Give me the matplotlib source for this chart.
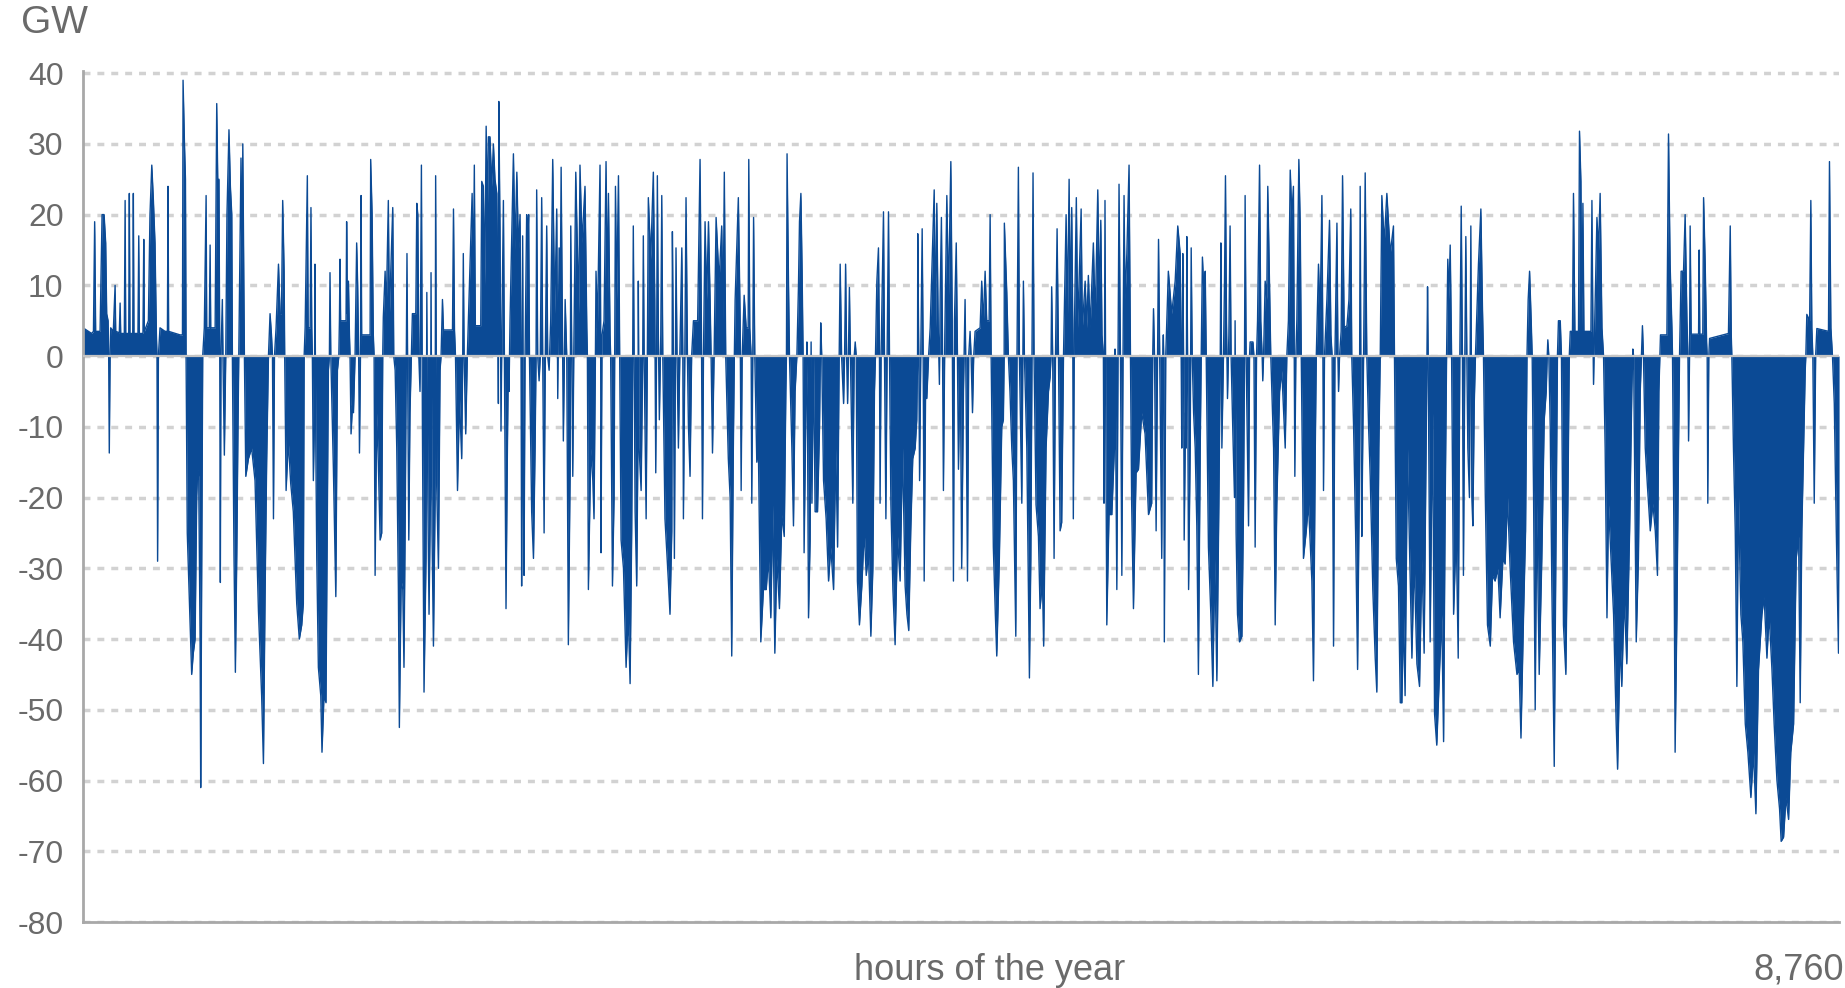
import numpy as np
import matplotlib
matplotlib.use("Agg")
import matplotlib.pyplot as plt

plt.rcParams['font.family'] = ['Liberation Sans', 'DejaVu Sans']
plt.rcParams['axes.unicode_minus'] = False

# hourly balance as (hour, GW) breakpoints, split in eight stretches
p1 = [(0, 4.0), (27, 3.5), (43, 3.2), (52, 3.5), (58, 19), (63, 3.5), (85, 3.5), (95, 20), (105, 20),
      (113, 16), (118, 6), (125, 5), (128, 0), (131, -13.7), (135, 0), (138, 4), (151, 3.5), (160, 10),
      (163, 3.5), (181, 3.3), (185, 7.5), (188, 3.2), (206, 3.2), (210, 22), (213, 3.2), (228, 3.2),
      (231, 23), (234, 3.2), (248, 3.2), (251, 23), (254, 3.2), (274, 3.2), (278, 17), (281, 3.2),
      (299, 3.2), (303, 16.5), (306, 3.5), (326, 5), (334, 20), (343, 27), (351, 22), (359, 16), (366, 3),
      (369, 0), (372, -29), (376, 0), (384, 4), (409, 3.5), (421, 3.5), (424, 24), (427, 3.5), (484, 3),
      (496, 3), (499, 39), (506, 30), (511, 25), (514, 0), (520, -25), (534, -38), (542, -45), (550, -42),
      (559, -40), (567, -20), (572, -16), (577, -17), (584, -40), (587, -61), (592, -30), (597, 0),
      (605, 4), (614, 22.7), (617, 4), (630, 4), (634, 15.7), (637, 4), (659, 4), (664, 25), (667, 35.7),
      (672, 25), (678, 25), (682, 0), (685, -32), (688, 0), (695, 8), (698, 0), (705, -14), (712, 0),
      (718, 20), (728, 32), (735, 24), (742, 20), (745, 0), (753, -28), (760, -44.7), (767, -28),
      (773, -10), (777, 0), (783, 15), (788, 28), (793, 12), (797, 30), (802, 10), (805, 0), (812, -17),
      (825, -14.5), (841, -13), (858, -17.6), (875, -36), (891, -48), (900, -57.6), (908, -34),
      (916, -15), (925, 0), (933, 6), (940, 3), (945, 0), (950, -23), (955, 0), (963, 4), (975, 13),
      (983, 6), (990, 6), (996, 22), (1003, 12), (1006, 0), (1013, -19), (1024, -12), (1036, -18),
      (1049, -22), (1066, -35), (1079, -40), (1091, -38)]

p2 = [(1099, -35), (1103, 0), (1108, 4), (1119, 25.5), (1123, 4), (1133, 4), (1137, 21), (1141, 4),
      (1144, 0), (1149, -17.6), (1154, -10), (1157, 13), (1161, -12), (1166, -28.6), (1174, -44),
      (1186, -48), (1192, -56), (1202, -48), (1212, -49), (1219, -21), (1224, -2), (1229, 0), (1232, 11.8),
      (1236, 0), (1249, -16), (1261, -34), (1269, -2), (1276, 0), (1279, 5), (1282, 13.7), (1285, 5),
      (1312, 5), (1315, 19), (1319, 6), (1324, 10.6), (1329, 3), (1332, 0), (1337, -11), (1344, -7),
      (1349, -8), (1357, 0), (1365, 16), (1370, 10), (1375, 0), (1379, -13.7), (1384, 0), (1387, 22.7),
      (1390, 3), (1432, 3), (1435, 27.8), (1442, 20), (1448, 3), (1452, 0), (1457, -31), (1465, -8),
      (1473, -15), (1482, -26), (1490, -25), (1495, 0), (1498, 5.5), (1507, 12), (1512, 5.5), (1523, 22),
      (1528, 5.5), (1545, 21), (1550, 0), (1557, -2), (1565, -13), (1573, -32.5), (1578, -52.5),
      (1587, -31.7), (1595, -33), (1601, -44), (1608, -20), (1616, 14.5), (1620, -5), (1625, -26),
      (1631, -8), (1638, 0), (1643, 6), (1660, 6), (1665, 21.6), (1670, 20), (1675, 0), (1681, -5),
      (1688, 27), (1693, -10), (1701, -47.5), (1711, -28.6), (1715, 9), (1720, -20), (1726, -36.5),
      (1733, -20), (1736, 11.8), (1741, -25), (1748, -41), (1756, -21), (1759, 25.5), (1764, -18),
      (1773, -30), (1781, -2), (1786, 0), (1793, 8), (1798, 3.7), (1843, 3.7), (1848, 20.8), (1853, 3.7),
      (1858, 0), (1868, -19), (1878, -6), (1889, -14.5), (1894, 0), (1897, 14.5), (1901, 0), (1909, -11),
      (1917, 0), (1931, 13.7), (1941, 23), (1947, 10), (1952, 27), (1957, 4.3), (1984, 4.3), (1989, 24.7),
      (1997, 24), (2004, 10), (2011, 32.5), (2017, 20), (2022, 31), (2030, 31), (2039, 24), (2047, 30),
      (2055, 25), (2064, 23), (2069, 8), (2072, -6.7), (2074, 36), (2080, 18), (2085, -10.6), (2090, 5),
      (2097, 22), (2102, 0), (2110, -35.7), (2117, -13), (2122, 0), (2125, -5), (2130, 5), (2147, 28.6),
      (2155, 15), (2164, 26), (2172, 15), (2180, 20)]

p3 = [(2185, 0), (2188, -32.5), (2193, 17), (2197, -20), (2200, -31), (2205, 0), (2213, 20), (2218, 16),
      (2223, 20), (2227, 0), (2238, -22), (2247, -28.6), (2255, -13), (2260, 0), (2263, 23.5), (2268, 0),
      (2275, -3.5), (2281, 0), (2288, 22.4), (2293, 0), (2300, -25), (2306, 0), (2313, 18.4), (2318, 0),
      (2325, -2), (2333, 5), (2343, 27.8), (2353, 6), (2363, 20.8), (2368, -6), (2375, 15.3), (2380, 6),
      (2385, 26.7), (2391, 5), (2396, -12), (2405, 8), (2413, 0), (2421, -40.8), (2430, -16), (2433, 18.4),
      (2438, 0), (2443, -17), (2448, 0), (2458, 26), (2466, 15), (2473, 6), (2479, 27), (2489, 16),
      (2504, 24), (2513, 4), (2516, 0), (2521, -33), (2533, -13), (2543, -17.6), (2549, -23), (2556, 0),
      (2559, 12), (2566, 4), (2579, 27), (2582, 5), (2584, -27.8), (2589, 3), (2599, 5), (2609, 27.5),
      (2616, 8), (2621, 23), (2629, 3), (2632, 0), (2641, -32.5), (2649, -20), (2652, 0), (2656, 24),
      (2662, 8), (2671, 25.5), (2677, 0), (2684, -26), (2696, -30), (2709, -44), (2720, -36.5),
      (2729, -46.3), (2737, -24.7), (2742, 0), (2745, 18.4), (2749, 0), (2754, -22), (2762, -32.5),
      (2769, -10), (2770, 10.6), (2774, -13), (2784, -19), (2792, 0), (2795, 17), (2799, 0), (2809, -23),
      (2815, 0), (2820, 22.4), (2832, 13.7), (2845, 26), (2852, 8), (2857, -16.5), (2862, 5), (2865, 25.5),
      (2870, 3), (2875, -9), (2882, 3), (2887, 22.7), (2892, 0), (2903, -23), (2920, -31.8), (2928, -36.5),
      (2937, -24.7), (2940, 17.6), (2945, 0), (2950, -28.6), (2955, 0), (2958, 15.3), (2963, 0),
      (2970, -13), (2977, 0), (2987, 15.3), (2992, 0), (2995, -23), (3002, 0), (3008, 22.4), (3015, 0),
      (3020, -9.8), (3028, -17), (3036, 0), (3045, 5), (3066, 5), (3078, 27.8), (3085, 3), (3090, -23),
      (3095, 0), (3103, 19), (3111, 8), (3120, 19), (3128, 8), (3133, 0), (3140, -13.7), (3148, 0),
      (3158, 19.6), (3173, 10.6), (3186, 18.4), (3193, 5), (3199, 26), (3206, 0), (3219, -14.5),
      (3228, -20), (3236, -42.4), (3244, -13), (3249, 0), (3253, 8), (3269, 22.4), (3278, 5), (3283, -19)]

p4 = [(3288, 0), (3298, 8.6), (3308, 4), (3318, 4), (3321, 27.8), (3326, 4), (3333, 0), (3336, -20.8),
      (3341, 0), (3345, 19.6), (3351, 0), (3361, -15), (3369, -13), (3381, -40.4), (3394, -33),
      (3408, -33), (3419, -28.6), (3431, -37), (3441, -21), (3451, -42), (3461, -28.6), (3474, -35.7),
      (3486, -22.4), (3498, -25.5), (3506, -5), (3509, 0), (3512, 28.6), (3519, 10.6), (3524, 0),
      (3536, -13), (3544, -24), (3552, -5), (3561, 0), (3569, 10), (3574, 19), (3581, 23), (3587, 12),
      (3592, 0), (3597, -27.8), (3607, -5), (3611, 2), (3614, -10), (3619, -37), (3627, -26), (3632, 2),
      (3636, -20.8), (3644, 0), (3652, -22), (3664, -22), (3674, -10), (3680, 4.7), (3685, 0),
      (3694, -17.6), (3707, -23), (3719, -31.8), (3730, -27), (3744, -33), (3755, -13), (3764, -27),
      (3772, 0), (3777, 13), (3784, 0), (3794, -6.7), (3799, 0), (3804, 13), (3809, 0), (3814, -6.7),
      (3818, 0), (3823, 9.7), (3828, 0), (3840, -20.8), (3847, 0), (3852, 2), (3857, 0), (3863, -31.8),
      (3873, -38), (3885, -32.5), (3897, -24.7), (3907, -31), (3918, -28), (3930, -39.6), (3940, -30),
      (3948, -5), (3953, 0), (3960, 10.6), (3968, 15.3), (3973, 0), (3976, -20.8), (3981, 0), (3993, 20.4),
      (3998, 0), (4005, -23), (4011, 0), (4018, 20.4), (4023, 0), (4030, -21), (4040, -33), (4051, -40.8),
      (4063, -25.5), (4076, -31.8), (4088, -13), (4101, -32.5), (4110, -36.5), (4119, -38.8),
      (4129, -24.7), (4139, -14.5), (4151, -13), (4159, -9), (4163, 0), (4164, 17.3), (4169, 0),
      (4173, -17.6), (4179, 0), (4186, 18), (4191, 0), (4196, -31.8), (4203, -5), (4209, -6), (4218, 0),
      (4226, 4), (4246, 23.5), (4253, 4), (4259, 21.6), (4266, 4), (4272, -4), (4276, 9), (4282, 19.6),
      (4287, 3), (4292, -19), (4299, 3), (4309, 22.7), (4317, 8), (4329, 27.5), (4336, 5), (4342, -31.8),
      (4347, 5), (4356, 16), (4362, 0), (4367, -16), (4376, 0)]

p5 = [(4383, -30), (4392, -5), (4400, 8), (4405, -5), (4412, -31.8), (4418, 0), (4425, 3.5), (4430, 0),
      (4437, -8), (4443, 0), (4450, 3.5), (4475, 4), (4483, 10.6), (4491, 4.5), (4500, 12), (4508, 5),
      (4520, 5), (4525, 20), (4530, 0), (4541, -27), (4551, -36.5), (4558, -42.4), (4571, -28.6),
      (4583, -10), (4591, -9), (4595, 0), (4596, 18.8), (4608, 9), (4616, 0), (4624, -5), (4633, -13),
      (4641, -17.6), (4653, -39.6), (4659, 0), (4666, 26.7), (4671, 0), (4683, -20.8), (4688, 0),
      (4691, 10.6), (4696, 0), (4708, -13), (4721, -45.5), (4728, -28.6), (4734, 0), (4739, 25.9),
      (4744, 0), (4754, -21), (4766, -25.5), (4774, -35.7), (4786, -31.8), (4792, -41), (4804, -13),
      (4816, -5), (4824, -3), (4829, 0), (4832, 9.8), (4837, 0), (4844, -28.6), (4851, 0), (4859, 18),
      (4866, 0), (4874, -24.7), (4882, -23.5), (4891, 0), (4904, 20), (4911, 6), (4919, 25), (4925, 6),
      (4932, 21), (4937, 5), (4940, -23), (4945, 3), (4955, 22.4), (4962, 4), (4979, 20.8), (4985, 4),
      (4999, 10.6), (5007, 4), (5015, 11.4), (5024, 4), (5040, 16), (5049, 5), (5062, 23.5), (5069, 8),
      (5077, 19.2), (5083, 3), (5090, 0), (5093, -20.8), (5098, 22), (5102, -10), (5107, -38),
      (5118, -22.4), (5132, -22.4), (5145, -13), (5148, 1), (5157, -33), (5163, 0), (5168, 24.3),
      (5175, 0), (5182, -31), (5188, 0), (5193, 22.7), (5198, 8), (5207, 14.5), (5218, 27), (5225, 0),
      (5231, -20.8), (5240, -35.7), (5253, -16.5), (5265, -16), (5281, -8), (5298, -11), (5315, -22.4),
      (5331, -20.8), (5336, 0), (5340, 6.7), (5345, 0), (5353, -24.7), (5360, 0), (5365, 16.5), (5371, 0),
      (5381, -28.6), (5386, 0), (5389, 3), (5391, 0), (5394, -40.4), (5401, 0), (5414, 12), (5431, 6),
      (5448, 10.6), (5461, 18.4), (5473, 14.5)]

p6 = [(5478, 0), (5481, -13), (5486, 14.5), (5490, 0), (5493, -26), (5500, -8), (5503, -13), (5506, 16.9),
      (5510, 0), (5515, -33), (5523, -13), (5528, 15.3), (5533, 0), (5540, -8), (5548, -13), (5556, -24),
      (5564, -45), (5573, -13), (5578, 0), (5584, 14), (5593, 8), (5598, 12), (5603, 0), (5614, -27),
      (5626, -36.5), (5636, -46.7), (5646, -28.6), (5656, -45.9), (5666, -21), (5673, 0), (5676, 16),
      (5681, -13), (5689, 0), (5694, 10), (5699, 25.5), (5704, 5), (5709, -6), (5716, 3), (5722, 18.4),
      (5727, 0), (5736, -11), (5744, -20), (5747, 5), (5752, -25), (5759, -36.5), (5769, -40.4),
      (5781, -39.6), (5789, -21), (5794, 0), (5797, 22.7), (5802, 0), (5814, -24), (5819, 0), (5822, 2),
      (5836, 2), (5841, 0), (5847, -27), (5854, 0), (5859, 5), (5869, 27), (5875, 5), (5882, 0),
      (5885, -3.5), (5889, 0), (5897, 10.6), (5905, 8), (5910, 24), (5919, 10), (5925, 0), (5939, -13),
      (5947, -38), (5955, -21), (5969, -5), (5980, -2), (5997, -13), (6005, 0), (6013, 5), (6022, 26.3),
      (6030, 20), (6038, 24), (6042, 0), (6045, -17), (6050, 0), (6055, 5), (6065, 27.8), (6072, 18.4),
      (6077, 0), (6088, -28.6), (6102, -24.7), (6113, -20.8), (6130, -31.8), (6138, -45.9), (6147, -13),
      (6152, 0), (6163, 13), (6171, 5), (6180, 22.7), (6185, 0), (6188, -19), (6193, 0), (6205, 8),
      (6218, 19.2), (6225, 3), (6231, 0), (6238, -41), (6245, 0), (6255, 18.8), (6260, 0), (6263, -5),
      (6268, 0), (6276, 3.5), (6283, 25.5), (6291, 4), (6305, 4.3), (6315, 8), (6324, 20.8), (6329, 0),
      (6338, -9.8), (6348, -24.7), (6358, -44.3), (6366, -20), (6371, 24), (6376, -15), (6379, -25.5),
      (6388, 0), (6396, 25.9), (6404, 0), (6413, -10), (6421, -17), (6434, -33), (6446, -42.7),
      (6454, -47.5), (6464, -13), (6471, 0), (6479, 22.7), (6491, 16), (6504, 23), (6521, 14.5),
      (6537, 18.4), (6542, 0), (6551, -28.6), (6562, -32.5), (6571, -49)]

p7 = [(6579, -49), (6587, -36.5), (6595, -48), (6607, -13), (6617, -27), (6629, -42.7), (6640, -28.6),
      (6654, -43.5), (6667, -46.7), (6679, -28.6), (6690, -42), (6700, -13), (6704, 0), (6707, 9.8),
      (6710, 0), (6720, -40.4), (6732, -8), (6742, -50.6), (6753, -55), (6767, -44.3), (6778, -36.5),
      (6787, -54.5), (6795, -21), (6802, 0), (6808, 13.7), (6813, 8), (6820, 15.7), (6827, 0),
      (6837, -36.5), (6850, -24.7), (6860, -42.7), (6868, 0), (6875, 21.2), (6881, 0), (6886, -31),
      (6893, 0), (6898, 16.9), (6903, 0), (6908, -13), (6916, -20), (6923, 18.4), (6928, -20), (6933, -24),
      (6940, -6.7), (6946, 0), (6961, 13), (6973, 20.8), (6981, 6.7), (6986, 0), (6995, -19.6),
      (7006, -38), (7020, -41), (7031, -31), (7044, -31.8), (7058, -30), (7069, -37), (7083, -28.6),
      (7094, -29.4), (7106, -20), (7119, -30), (7136, -40.4), (7153, -45), (7164, -44.3), (7173, -54),
      (7186, -36.5), (7196, -24.7), (7203, 0), (7209, 8), (7216, 12), (7224, 5), (7229, 0), (7236, -20),
      (7244, -50), (7252, -20.8), (7264, -45), (7277, -28.6), (7289, -9), (7299, -5), (7304, 0),
      (7307, 2.3), (7312, 0), (7319, -10), (7327, -32.5), (7339, -58), (7349, -20.8), (7355, 0), (7360, 5),
      (7369, 5), (7375, 0), (7385, -38), (7397, -45), (7407, -20.8), (7414, 0), (7419, 3.5), (7430, 3.5),
      (7435, 23), (7442, 3.5), (7460, 3.5), (7465, 31.8), (7472, 24.7), (7477, 4), (7482, 21.6),
      (7487, 3.5), (7522, 3.5), (7527, 22), (7532, 3.5), (7535, -4), (7540, 3.5), (7552, 19.6), (7560, 15),
      (7568, 23), (7577, 4), (7585, 0), (7593, -13), (7602, -37), (7610, -21), (7622, -28.6),
      (7635, -36.5), (7648, -52), (7655, -58.4), (7668, -40)]

p8 = [(7676, -46.7), (7688, -34), (7701, -43.5), (7715, -24.7), (7726, -5), (7730, 0), (7731, 1),
      (7735, 0), (7748, -40.4), (7759, -28.6), (7768, -5), (7774, 0), (7779, 4.3), (7784, 0), (7793, -13),
      (7804, -18.4), (7818, -24.7), (7831, -20.8), (7843, -24.7), (7854, -31), (7861, -5), (7866, 0),
      (7869, 3), (7901, 3), (7909, 31.4), (7917, 13), (7926, 4), (7929, 0), (7937, -28.6), (7942, -56),
      (7951, -36.5), (7959, -13), (7964, 0), (7972, 12), (7984, 12), (7992, 20), (8001, 5), (8006, 0),
      (8009, -12), (8014, 0), (8017, 18.4), (8022, 3.1), (8059, 3.1), (8062, 15), (8065, 3.1), (8080, 3.1),
      (8084, 22.4), (8092, 13), (8099, 2), (8102, 0), (8105, -20.8), (8110, 0), (8114, 2.5), (8208, 3.2),
      (8217, 18.4), (8222, 3), (8225, 0), (8233, -13), (8242, -24.7), (8250, -46.7), (8258, -19.6),
      (8270, -36.5), (8280, -40.4), (8292, -52), (8305, -56), (8320, -62.4), (8333, -56), (8345, -64.7),
      (8358, -44.3), (8375, -36.5), (8386, -34), (8400, -42.7), (8411, -36.5), (8425, -44.3), (8436, -52),
      (8450, -60), (8463, -64), (8471, -68.6), (8483, -68), (8495, -62.4), (8508, -65.5), (8519, -56),
      (8533, -52), (8546, -28.6), (8558, -25.5), (8566, -49), (8574, -24.7), (8583, -13), (8591, -2),
      (8594, 0), (8599, 5.9), (8613, 5), (8619, 22), (8624, 4), (8629, 0), (8636, -20.8), (8643, 0),
      (8649, 3.9), (8707, 3.5), (8712, 27.5), (8719, 4), (8727, 0), (8736, -6.7), (8746, -24.7),
      (8757, -42), (8760, -28)]

y_ticks = [40, 30, 20, 10, 0, -10, -20, -30, -40, -50, -60, -70, -80]
x_label = "hours of the year"
x_end_label = "8,760"
y_unit = "GW"

points = p1 + p2 + p3 + p4 + p5 + p6 + p7 + p8
hours = np.array([h for h, v in points], dtype=float)
gw = np.array([v for h, v in points], dtype=float)
order = np.argsort(hours, kind="stable")
hours, gw = hours[order], gw[order]

BLUE = "#0B4A95"
TXT = "#6A6A6A"

fig = plt.figure(figsize=(18.45, 9.88), dpi=100)
ax = fig.add_axes([0.045, 0.0668, 0.9518, 0.8613])

ax.fill_between(hours, 0, gw, color=BLUE, linewidth=0, zorder=2)
ax.plot(hours, gw, color=BLUE, lw=1.0, zorder=2)
ax.axhline(0, color="#c4c4c4", lw=1.6, zorder=3)

ax.set_xlim(0, 8760)
ax.set_ylim(-80, 40.3)
ax.set_xticks([])
ax.set_yticks(y_ticks)
ax.set_yticklabels([str(t) for t in y_ticks])
ax.tick_params(axis="y", length=0, pad=14, labelsize=23, labelcolor=TXT)

ax.set_axisbelow(True)
ax.yaxis.grid(True, color="#d2d2d2", lw=2.5, linestyle=(0, (2, 2)))

for side in ("top", "right"):
    ax.spines[side].set_visible(False)
for side in ("left", "bottom"):
    ax.spines[side].set_color("#a8a8a8")
    ax.spines[side].set_linewidth(2)

fig.text(0.0115, 0.977, y_unit, fontsize=28, color=TXT, ha="left", va="center")
fig.text(0.5366, 0.0081, x_label, fontsize=26, color=TXT, ha="center", va="baseline")
fig.text(0.9995, 0.0081, x_end_label, fontsize=26, color=TXT, ha="right", va="baseline")

fig.savefig("out.png", dpi=100)
